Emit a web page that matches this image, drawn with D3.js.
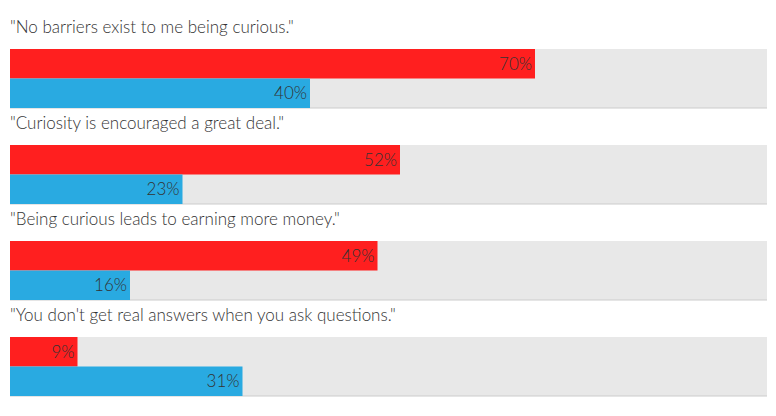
<!DOCTYPE html>
<html><head><meta charset="utf-8">
<script src="https://cdn.jsdelivr.net/npm/d3@7"></script>
<style>body{margin:0;background:#fff}</style>
</head><body><svg id="chart"></svg>
<script>
// Paired horizontal bars: one quote per group, red vs blue share
const quotes = [
  "\"No barriers exist to me being curious.\"",
  "\"Curiosity is encouraged a great deal.\"",
  "\"Being curious leads to earning more money.\"",
  "\"You don't get real answers when you ask questions.\""
];
const redValues = [70, 52, 49, 9];
const blueValues = [40, 23, 16, 31];

const W = 776, H = 416;
const RED = "#ff1f1f", BLUE = "#29aae1", BG = "#e8e8e8";

const svg = d3.select("#chart").attr("width", W).attr("height", H);
const x = d3.scaleLinear().domain([0, 100]).range([10, 760]);
const groupY = d3.scaleBand().domain(quotes).range([10, 394]);
const barH = 29.5;

quotes.forEach((q, i) => {
  const y0 = groupY(q);
  const g = svg.append("g");
  g.append("text").attr("x", 10).attr("y", y0 + 23)
    .attr("font-family", "Lato").attr("font-weight", 300).attr("font-size", 17)
    .attr("fill", "#333").text(q);
  const top = y0 + 39;
  g.append("rect").attr("x", 10).attr("y", top).attr("width", 757).attr("height", barH * 2)
    .attr("fill", BG);
  g.append("line").attr("x1", 10).attr("x2", 767).attr("y1", top + barH * 2).attr("y2", top + barH * 2)
    .attr("stroke", "#ccc").attr("stroke-width", 1);
  [[redValues[i], RED], [blueValues[i], BLUE]].forEach(([v, c], j) => {
    const by = top + j * barH;
    g.append("rect").attr("x", x(0)).attr("y", by).attr("width", x(v) - x(0)).attr("height", barH)
      .attr("fill", c);
    g.append("text").attr("x", x(v) - 3).attr("y", by + barH / 2).attr("dy", "0.35em")
      .attr("text-anchor", "end").attr("font-family", "Lato").attr("font-weight", 300)
      .attr("font-size", 17).attr("fill", "#333").text(v + "%");
  });
});
</script></body></html>
